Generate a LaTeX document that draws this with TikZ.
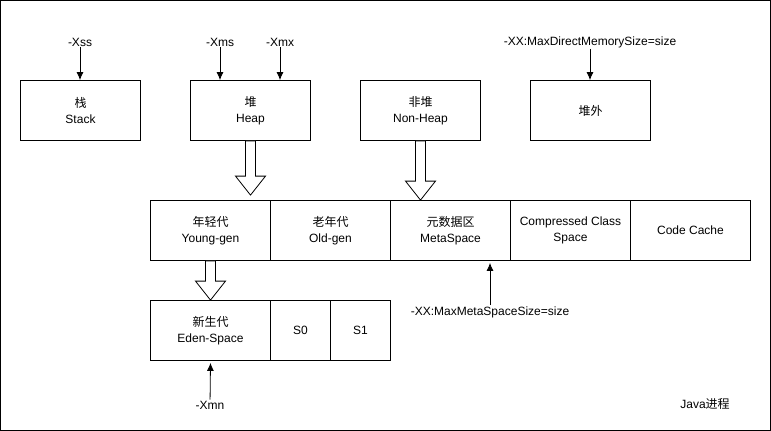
\documentclass[tikz,border=0pt]{standalone}
\usepackage{fontspec}
\setmainfont{Liberation Sans}
\newfontfamily\cjk{Noto Sans CJK SC}
\usetikzlibrary{calc,arrows.meta}

\tikzset{
  area/.style={draw, line width=0.8pt, minimum width=120pt, minimum height=60pt,
    inner sep=0pt, align=center},
  part/.style={draw, line width=0.8pt, minimum width=120pt, minimum height=60pt,
    inner sep=0pt, align=center},
  flag/.style={inner sep=1pt},
  flagarrow/.style={-{Latex[length=8pt,width=7pt]}, line width=0.8pt},
  hollow/.style={draw, line width=0.8pt, fill=white, line join=miter}
}

% hollow arrow from #1 down to tip #2
\newcommand\hollowarrow[2]{
  \draw[hollow] ($(#1)+(-5,0)$) -- ($(#2)+(-5,-19)$) -- ($(#2)+(-15,-19)$) -- (#2)
    -- ($(#2)+(15,-19)$) -- ($(#2)+(5,-19)$) -- ($(#1)+(5,0)$) -- cycle;
}

\begin{document}
\begin{tikzpicture}[x=1pt, y=-1pt, font=\fontsize{12}{15.5}\selectfont]
  \useasboundingbox (0,0) rectangle (771,431);
  \draw[line width=0.8pt] (0.5,0.5) rectangle (770.5,430.5);

  % memory areas
  \node[area] (stack)   at (80.5,110.5)  {{\cjk 栈}\\Stack};
  \node[area] (heap)    at (250.5,110.5) {{\cjk 堆}\\Heap};
  \node[area] (nonheap) at (420.5,110.5) {{\cjk 非堆}\\Non-Heap};
  \node[area] (offheap) at (590.5,110.5) {{\cjk 堆外}};

  % heap and non-heap parts
  \node[part] (young) at (210.5,230.5) {{\cjk 年轻代}\\Young-gen};
  \node[part] (old)   at (330.5,230.5) {{\cjk 老年代}\\Old-gen};
  \node[part] (meta)  at (450.5,230.5) {{\cjk 元数据区}\\MetaSpace};
  \node[part] (ccs)   at (570.5,230.5) {Compressed Class\\Space};
  \node[part] (cache) at (690.5,230.5) {Code Cache};

  % young generation parts
  \node[part] (eden) at (210.5,330.5) {{\cjk 新生代}\\Eden-Space};
  \node[part, minimum width=60pt] (s0) at (300.5,330.5) {S0};
  \node[part, minimum width=60pt] (s1) at (360.5,330.5) {S1};

  % jvm flags
  \node[flag] (xss)     at (80,42)  {-Xss};
  \node[flag] (xms)     at (220,42) {-Xms};
  \node[flag] (xmx)     at (280,42) {-Xmx};
  \node[flag] (maxdir)  at (590,42) {-XX:MaxDirectMemorySize=size};
  \node[flag] (xmn)     at (210,405) {-Xmn};
  \node[flag] (maxmeta) at (490,312) {-XX:MaxMetaSpaceSize=size};
  \node (proc) at (705,404) {Java{\cjk 进程}};

  \draw[flagarrow] (xss) -- (xss |- stack.north);
  \draw[flagarrow] (xms) -- (xms |- heap.north);
  \draw[flagarrow] (xmx) -- (xmx |- heap.north);
  \draw[flagarrow] (maxdir) -- (maxdir |- offheap.north);
  \draw[flagarrow] (xmn) -- ($(eden.south)+(0,2)$);
  \draw[flagarrow] (maxmeta) -- ($(maxmeta.north |- meta.south)+(0,2)$);

  % contains
  \coordinate (heaptip) at ($(heap.south |- young.north)+(0,-5)$);
  \hollowarrow{heap.south}{heaptip}
  \hollowarrow{nonheap.south}{nonheap.south |- meta.north}
  \hollowarrow{young.south}{eden.north}
\end{tikzpicture}
\end{document}
